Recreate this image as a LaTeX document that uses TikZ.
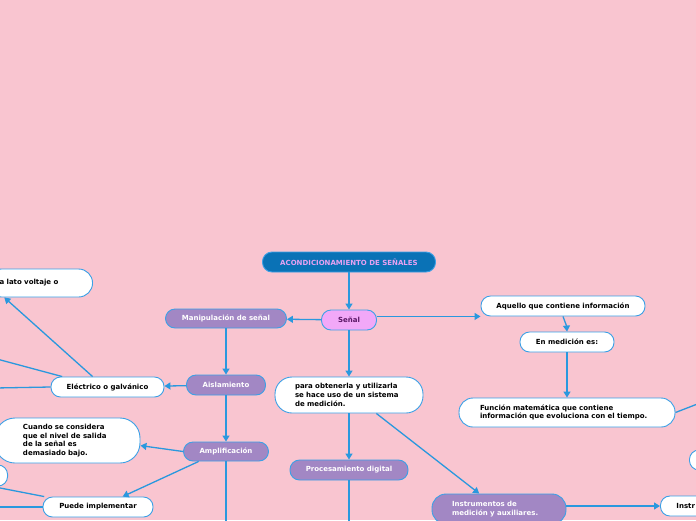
\documentclass[tikz,border=0pt]{standalone}
\usepackage{fontspec}
\setmainfont{DejaVu Sans}
\usetikzlibrary{arrows.meta}
\definecolor{bgpink}{HTML}{F9C5D0}
\definecolor{titleblue}{HTML}{0A72B6}
\definecolor{titletext}{HTML}{E8A2F2}
\definecolor{senalfill}{HTML}{F2A8F8}
\definecolor{senaltext}{HTML}{5B1866}
\definecolor{topicpurple}{HTML}{A287C4}
\definecolor{edgeblue}{HTML}{3BA0E6}
\definecolor{lineblue}{HTML}{2A98DE}
\begin{document}
\begin{tikzpicture}[x=1pt, y=-1pt,
  every node/.style={draw=edgeblue, line width=0.9pt, inner sep=0pt,
    font=\bfseries\fontsize{7}{8.8}\selectfont},
  pill/.style={rounded corners=9.5pt, minimum height=20pt},
  title/.style={pill, fill=titleblue, text=titletext},
  topic/.style={pill, fill=topicpurple, text=white},
  leaf/.style={pill, fill=white, text=black},
  note/.style={fill=white, text=black, align=left},
  link/.style={draw=lineblue, line width=1.3pt},
  arr/.style={link, -{Triangle[length=6pt,width=7pt]}}]
\useasboundingbox (0,0) rectangle (696,520);
\clip (0,0) rectangle (696,520);
\fill[bgpink] (0,0) rectangle (696,520);

% centre
\node[title, minimum width=173pt] (acond) at (349,262) {ACONDICIONAMIENTO DE SEÑALES};
\node[pill, fill=senalfill, text=senaltext, minimum width=55pt] (senal) at (349,320) {Señal};

% left branch
\node[topic, minimum width=121pt, minimum height=19pt] (manip) at (226,318.5) {Manipulación de señal};
\node[topic, minimum width=79pt] (aisla) at (226,385) {Aislamiento};
\node[leaf, minimum width=113pt] (galv) at (107.5,387) {Eléctrico o galvánico};
\node[note, rounded corners=14pt, text width=81pt, inner xsep=12pt, minimum height=28pt, anchor=east] (volt) at (93,283) {a lato voltaje o};
\node[topic, minimum width=85pt, minimum height=19pt] (ampli) at (226,451.5) {Amplificación};
\node[note, rounded corners=20pt, text width=89pt, inner xsep=28pt, minimum height=45pt] (bajo) at (67.5,440.5) {Cuando se considera\\que el nivel de salida\\de la señal es\\demasiado bajo.};
\node[leaf, minimum width=110pt] (puede) at (98,507) {Puede implementar};
\node[leaf, minimum width=40pt, minimum height=21pt, anchor=east] (masL) at (8,475.5) {};

% middle branch
\node[note, rounded corners=17pt, text width=108pt, inner xsep=20pt, minimum height=36pt] (medir) at (349,395) {para obtenerla y utilizarla\\se hace uso de un sistema\\de medición.};
\node[topic, minimum width=118pt] (proce) at (349,470) {Procesamiento digital};
\node[topic, align=left, rounded corners=14pt, text width=94pt, inner xsep=20pt, minimum height=30pt] (instru) at (499,509) {Instrumentos de\\medición y auxiliares.};
\node[leaf, align=left, text width=64pt, inner xsep=16pt, anchor=west] (instrB) at (660,506) {Instr};

% right branch
\node[leaf, minimum width=164pt] (aquel) at (563,306) {Aquello que contiene información};
\node[leaf, minimum width=94pt] (enmed) at (567,342) {En medición es:};
\node[note, rounded corners=14pt, text width=174pt, inner xsep=21pt, minimum height=29pt] (funci) at (567,412.5) {Función matemática que contiene\\información que evoluciona con el tiempo.};
\node[leaf, minimum width=40pt, anchor=west] (masR) at (689,460) {};

% free ends off the page
\coordinate (offR) at (700,403);
\coordinate (offL1) at (-5,358.5);
\coordinate (offL2) at (-5,388);
\coordinate (offL3) at (-5,487);
\coordinate (offL4) at (-5,507);
\coordinate (offB1) at (226,525);
\coordinate (offB2) at (349,525);

% connectors
\draw[arr] (acond) -- (senal);
\draw[arr] (senal) -- (manip);
\draw[arr] (senal.east |- aquel.south) -- (aquel.south west);
\draw[arr] (aquel.south) to[out=-70,in=95] (enmed.north);
\draw[arr] (enmed) -- (funci);
\draw[link] (funci.east) -- (offR);
\draw[arr] (senal) -- (medir);
\draw[arr] (medir) -- (proce);
\draw[link] (proce) -- (offB2);
\draw[arr] (medir.-34) -- (instru.142);
\draw[arr] (instru.east |- instrB.west) -- (instrB.west);
\draw[arr] (manip) -- (aisla);
\draw[arr] (aisla) -- (galv);
\draw[arr] (galv.145) -- (volt.-158);
\draw[link] (galv.167) -- (offL1);
\draw[link] (galv.west) -- (offL2);
\draw[arr] (aisla) -- (ampli);
\draw[arr] (ampli.west) -- (bajo.-4);
\draw[arr] (ampli.200) -- (puede.23);
\draw[link] (ampli) -- (offB1);
\draw[link] (puede.169) -- (offL3);
\draw[link] (puede.west) -- (offL4);
\end{tikzpicture}
\end{document}
